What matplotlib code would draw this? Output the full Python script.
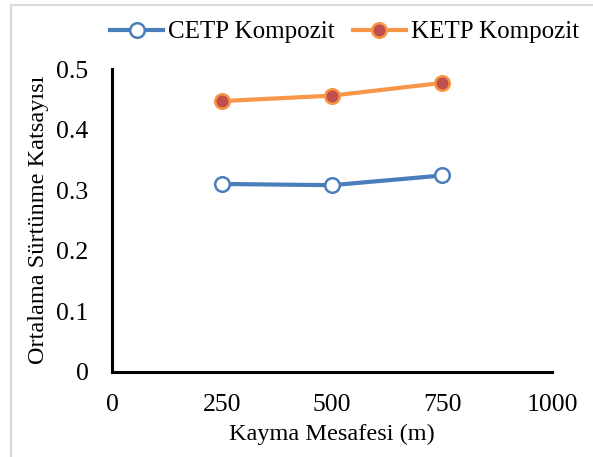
import numpy as np
import matplotlib.pyplot as plt
from matplotlib.patches import Rectangle

# data
distance = [250, 500, 750]
cetp = [0.310, 0.308, 0.324]
ketp = [0.447, 0.456, 0.477]

xticks = [0, 250, 500, 750, 1000]
yticks = [0, 0.1, 0.2, 0.3, 0.4, 0.5]

plt.rcParams['font.family'] = ['Liberation Serif', 'DejaVu Serif']

fig = plt.figure(figsize=(5.93, 4.57), dpi=100)
ax = fig.add_axes([0.1889, 0.187, 0.742, 0.662])

# light gray frame like the Excel chart area
fig.patches.append(Rectangle((11 / 593, -0.01), 1.0, 1 - 5 / 457 + 0.01,
                             transform=fig.transFigure, fill=False,
                             edgecolor='#d9d9d9', linewidth=1.5))

ax.plot(distance, cetp, color='#4a7ebb', linewidth=3, marker='o', markersize=10.5,
        markerfacecolor='white', markeredgecolor='#4a7ebb', markeredgewidth=1.8,
        label='CETP Kompozit')
ax.plot(distance, ketp, color='#f79646', linewidth=3, marker='o', markersize=10.5,
        markerfacecolor='#c0504d', markeredgecolor='#f79646', markeredgewidth=1.8,
        label='KETP Kompozit')

ax.set_xlim(0, 1000)
ax.set_ylim(0, 0.5)
ax.set_xticks(xticks)
ax.set_yticks(yticks)
ax.set_yticklabels(['0', '0.1', '0.2', '0.3', '0.4', '0.5'])
ax.tick_params(length=0, labelsize=18.5)
ax.tick_params(axis='x', pad=16)
ax.tick_params(axis='y', pad=17)

for s in ['top', 'right']:
    ax.spines[s].set_visible(False)
for s in ['left', 'bottom']:
    ax.spines[s].set_linewidth(2.2)
    ax.spines[s].set_color('black')

ax.set_xlabel('Kayma Mesafesi (m)', fontsize=17.5, labelpad=6)
ax.set_ylabel('Ortalama Sürtünme Katsayısı', fontsize=17.5, labelpad=5)

fig.legend(loc='center', bbox_to_anchor=(0.581, 1 - 32 / 457), ncol=2, frameon=False,
           fontsize=18, handlelength=2.15, handletextpad=0.2, columnspacing=0.7,
           borderaxespad=0)

fig.savefig('out.png', dpi=100)
